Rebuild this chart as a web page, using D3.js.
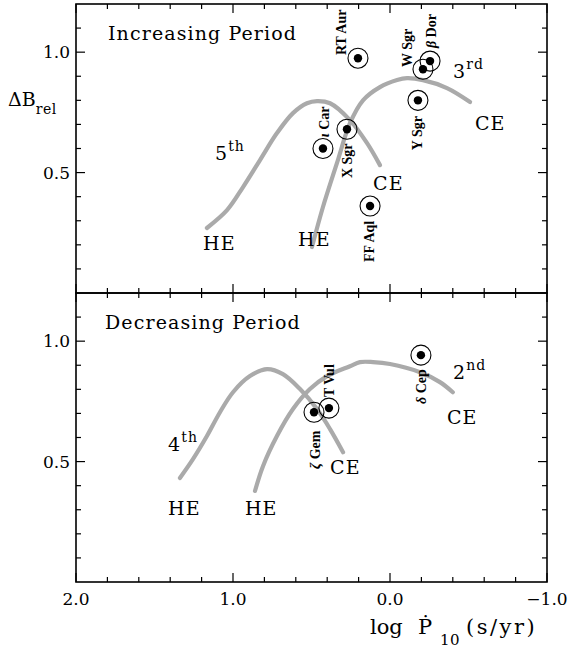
<!DOCTYPE html>
<html><head><meta charset="utf-8">
<script src="https://cdn.jsdelivr.net/npm/d3@7"></script>
<style>
body{margin:0;background:#fff;}
svg{display:block;}
text{font-family:"DejaVu Serif",serif;fill:#000;}
.star{font-family:"Liberation Serif",serif;font-weight:bold;font-size:14px;}
.ann{font-size:19px;letter-spacing:1.1px;}
</style></head><body>
<svg id="chart" width="571" height="650"></svg>
<script>
// ---------- data ----------
const xTicks = [2.0, 1.0, 0.0, -1.0];
const xTickLabels = ["2.0", "1.0", "0.0", "\u22121.0"];
const yTicks = [0.5, 1.0];
const yTickLabels = ["0.5", "1.0"];

// Increasing period panel: evolutionary tracks [logPdot, dB]
const track5th = [[1.166,0.270],[1.038,0.344],[0.936,0.440],[0.828,0.552],[0.720,0.664],[0.618,0.747],[0.529,0.788],[0.465,0.797],[0.382,0.788],[0.255,0.718],[0.146,0.622],[0.064,0.531]];
const track3rd = [[0.497,0.191],[0.427,0.357],[0.338,0.539],[0.255,0.705],[0.172,0.800],[0.064,0.855],[-0.045,0.884],[-0.108,0.892],[-0.210,0.884],[-0.363,0.851],[-0.510,0.793]];
// Decreasing period panel tracks
const track4th = [[1.338,0.432],[1.255,0.510],[1.166,0.606],[1.083,0.705],[1.000,0.788],[0.892,0.855],[0.783,0.884],[0.682,0.863],[0.573,0.801],[0.465,0.718],[0.382,0.635],[0.299,0.539]];
const track2nd = [[0.860,0.378],[0.809,0.481],[0.720,0.606],[0.618,0.718],[0.510,0.801],[0.401,0.855],[0.255,0.896],[0.191,0.913],[0.108,0.913],[0.000,0.905],[-0.191,0.871],[-0.318,0.830],[-0.400,0.788]];

// Stars
const starsIncName = ["RT Aur","W Sgr","\u03b2 Dor","Y Sgr","X Sgr","\u03b9 Car","FF Aql"];
const starsIncX = [0.204,-0.210,-0.255,-0.178,0.274,0.427,0.127];
const starsIncY = [0.975,0.929,0.963,0.800,0.680,0.600,0.361];
const starsDecName = ["\u03b6 Gem","T Vul","\u03b4 Cep"];
const starsDecX = [0.484,0.389,-0.197];
const starsDecY = [0.705,0.722,0.942];

// star label anchors (data coords, rotated text start)
const labIncX = [0.280,-0.140,-0.293,-0.204,0.242,0.389,0.102];
const labIncY = [0.988,0.938,1.017,0.593,0.477,0.647,0.129];
const labDecX = [0.446,0.357,-0.229];
const labDecY = [0.469,0.768,0.739];

// text annotations [text, superscript, x, y]
const annInc = [["Increasing Period","",1.796,1.05],["5","th",1.115,0.552],["3","rd",-0.401,0.892],
  ["CE","",-0.541,0.676],["CE","",0.108,0.427],["HE","",1.191,0.178],["HE","",0.586,0.195]];
const annDec = [["Decreasing Period","",1.815,1.05],["4","th",1.414,0.544],["2","nd",-0.401,0.842],
  ["HE","",1.414,0.278],["HE","",0.924,0.278],["CE","",0.382,0.448],["CE","",-0.363,0.656]];

// ---------- drawing ----------
const svg = d3.select("#chart");
const left = 76, right = 547;
const panels = [
  {top:4, bottom:293, tracks:[track5th,track3rd], sx:starsIncX, sy:starsIncY, names:starsIncName, lx:labIncX, ly:labIncY, ann:annInc},
  {top:293, bottom:582, tracks:[track4th,track2nd], sx:starsDecX, sy:starsDecY, names:starsDecName, lx:labDecX, ly:labDecY, ann:annDec}
];
const x = d3.scaleLinear().domain([2,-1]).range([left,right]);
const xMinor = d3.range(-1, 2.001, 0.2).map(v=>+v.toFixed(2));
const yMinor = d3.range(0.1, 1.2, 0.1).map(v=>+v.toFixed(2));

panels.forEach((p,i)=>{
  const y = d3.scaleLinear().domain([0,1.2]).range([p.bottom,p.top]);
  const g = svg.append("g");
  // tracks
  const line = d3.line().x(d=>x(d[0])).y(d=>y(d[1])).curve(d3.curveCatmullRom.alpha(0.5));
  p.tracks.forEach(t=>{
    g.append("path").attr("d",line(t)).attr("fill","none").attr("stroke","#aaaaaa")
     .attr("stroke-width",4.2).attr("stroke-linecap","round");
  });
  // ticks
  const tk = g.append("g").attr("stroke","#000").attr("stroke-width",1.2);
  xMinor.forEach(v=>{
    const major = Math.abs(v - Math.round(v))<1e-6;
    const L = major?9:5;
    tk.append("line").attr("x1",x(v)).attr("x2",x(v)).attr("y1",p.bottom).attr("y2",p.bottom-L);
    tk.append("line").attr("x1",x(v)).attr("x2",x(v)).attr("y1",p.top).attr("y2",p.top+L);
  });
  yMinor.forEach(v=>{
    const major = yTicks.some(t=>Math.abs(t-v)<1e-6);
    const L = major?9:5;
    tk.append("line").attr("x1",left).attr("x2",left+L).attr("y1",y(v)).attr("y2",y(v));
    tk.append("line").attr("x1",right).attr("x2",right-L).attr("y1",y(v)).attr("y2",y(v));
  });
  // frame
  g.append("rect").attr("x",left).attr("y",p.top).attr("width",right-left).attr("height",p.bottom-p.top)
   .attr("fill","none").attr("stroke","#000").attr("stroke-width",1.6);
  // y tick labels
  yTicks.forEach((v,k)=>{
    g.append("text").attr("x",left-6).attr("y",y(v)+6).attr("text-anchor","end")
     .attr("font-size",17).text(yTickLabels[k]);
  });
  // stars
  p.sx.forEach((sx,k)=>{
    g.append("circle").attr("cx",x(sx)).attr("cy",y(p.sy[k])).attr("r",10)
     .attr("fill","none").attr("stroke","#000").attr("stroke-width",1.1);
    g.append("circle").attr("cx",x(sx)).attr("cy",y(p.sy[k])).attr("r",4.2).attr("fill","#000");
    const lx = x(p.lx[k]), ly = y(p.ly[k]);
    const t = g.append("text").attr("class","star").attr("transform",`translate(${lx},${ly}) rotate(-90)`);
    const nm = p.names[k];
    if (/^[\u0370-\u03ff]/.test(nm)) {
      t.append("tspan").attr("font-style","italic").text(nm[0]);
      t.append("tspan").text(nm.slice(1));
    } else t.text(nm);
  });
  // annotations
  p.ann.forEach(a=>{
    const t = g.append("text").attr("class","ann").attr("x",x(a[2])).attr("y",y(a[3]));
    t.append("tspan").text(a[0]);
    if (a[1]) t.append("tspan").attr("dy",-9).attr("font-size",14).text(a[1]);
  });
});

// x tick labels
xTicks.forEach((v,k)=>{
  svg.append("text").attr("x",x(v)).attr("y",605).attr("text-anchor","middle")
   .attr("font-size",17).text(xTickLabels[k]);
});
// y axis label
const yl = svg.append("text").attr("x",8).attr("y",106).attr("font-size",19);
yl.append("tspan").text("\u0394B");
yl.append("tspan").attr("dy",8).attr("font-size",14).attr("letter-spacing",0.5).text("rel");
// x axis label
const xl = svg.append("g").attr("font-size",21);
xl.append("text").attr("x",370).attr("y",634).text("log");
xl.append("text").attr("x",418).attr("y",634).text("\u1E56");
xl.append("text").attr("x",440).attr("y",645).attr("font-size",15).attr("letter-spacing",0.5).text("10");
xl.append("text").attr("x",466).attr("y",634).attr("letter-spacing",2.5).text("(s/yr)");
</script></body></html>
